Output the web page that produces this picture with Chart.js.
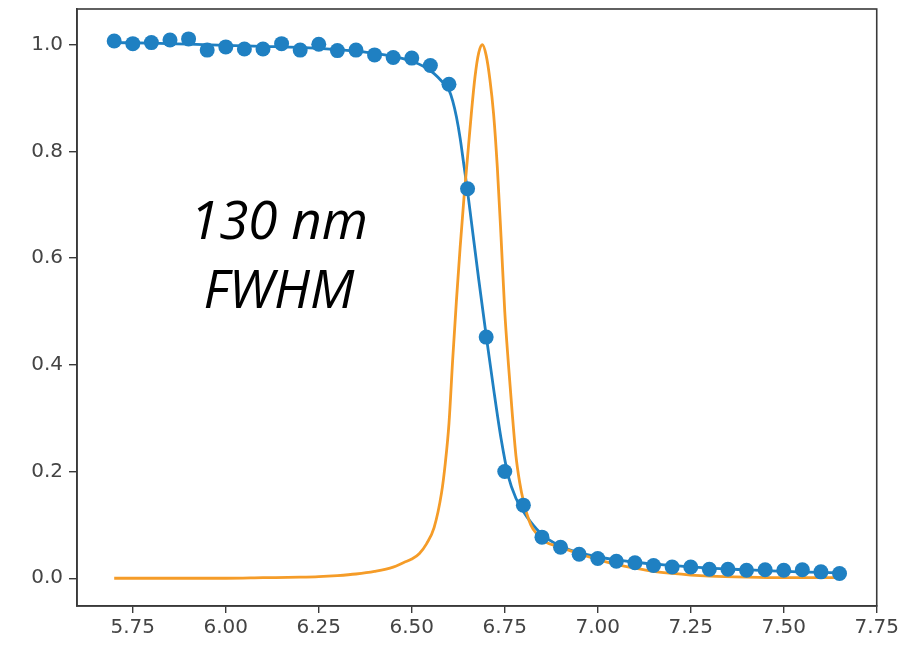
<!DOCTYPE html>
<html>
<head>
<meta charset="utf-8">
<script src="https://cdn.jsdelivr.net/npm/chart.js@4.4.1/dist/chart.umd.min.js"></script>
<style>
  html, body { margin: 0; padding: 0; background: #fff; }
  #wrap { width: 902px; height: 656px; }
</style>
</head>
<body>
<div id="wrap"><canvas id="myChart" width="902" height="656"></canvas></div>
<script>
'use strict';

// measured points (blue dots)
let pointX = [5.70, 5.75, 5.80, 5.85, 5.90, 5.95, 6.00, 6.05, 6.10, 6.15,
  6.20, 6.25, 6.30, 6.35, 6.40, 6.45, 6.50, 6.55, 6.60, 6.65,
  6.70, 6.75, 6.80, 6.85, 6.90, 6.95, 7.00, 7.05, 7.10, 7.15,
  7.20, 7.25, 7.30, 7.35, 7.40, 7.45, 7.50, 7.55, 7.60, 7.65];
let pointY = [1.007, 1.002, 1.004, 1.009, 1.011, 0.990, 0.996, 0.992, 0.992, 1.002,
  0.990, 1.001, 0.989, 0.990, 0.981, 0.976, 0.975, 0.961, 0.926, 0.730,
  0.452, 0.200, 0.137, 0.077, 0.058, 0.045, 0.037, 0.032, 0.029, 0.024,
  0.021, 0.021, 0.017, 0.017, 0.015, 0.016, 0.015, 0.016, 0.012, 0.009];

// fitted curve (blue line)
let fitX = [5.70, 5.80, 5.90, 6.00, 6.10, 6.20, 6.30, 6.35, 6.40, 6.45,
  6.50, 6.53, 6.56, 6.58, 6.60, 6.61, 6.62, 6.63, 6.64, 6.65,
  6.66, 6.68, 6.70, 6.72, 6.74, 6.76, 6.78, 6.80, 6.82, 6.85,
  6.90, 6.95, 7.00, 7.10, 7.20, 7.30, 7.40, 7.50, 7.60, 7.65];
let fitY = [1.004, 1.003, 1.001, 0.999, 0.997, 0.995, 0.991, 0.988, 0.984, 0.978,
  0.969, 0.960, 0.946, 0.932, 0.915, 0.895, 0.865, 0.825, 0.775, 0.725,
  0.670, 0.560, 0.455, 0.355, 0.262, 0.190, 0.150, 0.125, 0.105, 0.082,
  0.060, 0.048, 0.040, 0.030, 0.024, 0.019, 0.016, 0.013, 0.011, 0.010];

// peak curve (orange line)
let peakX = [5.70, 5.80, 5.90, 6.00, 6.10, 6.20, 6.25, 6.30, 6.35, 6.40,
  6.45, 6.48, 6.50, 6.52, 6.54, 6.56, 6.58, 6.59, 6.60, 6.61,
  6.62, 6.63, 6.64, 6.65, 6.66, 6.67, 6.68, 6.69, 6.70, 6.71,
  6.72, 6.73, 6.74, 6.75, 6.76, 6.77, 6.78, 6.79, 6.80, 6.82,
  6.84, 6.86, 6.90, 6.95, 7.00, 7.05, 7.10, 7.15, 7.20, 7.25,
  7.30, 7.40, 7.50, 7.65];
let peakY = [0.000, 0.000, 0.000, 0.000, 0.001, 0.002, 0.003, 0.005, 0.008, 0.013,
  0.021, 0.030, 0.036, 0.046, 0.065, 0.095, 0.160, 0.215, 0.290, 0.410,
  0.520, 0.620, 0.710, 0.790, 0.870, 0.940, 0.985, 1.000, 0.980, 0.935,
  0.870, 0.770, 0.640, 0.500, 0.400, 0.310, 0.230, 0.180, 0.145, 0.100,
  0.080, 0.068, 0.058, 0.046, 0.035, 0.026, 0.019, 0.013, 0.009, 0.006,
  0.004, 0.002, 0.001, 0.001];

let xTicks = [5.75, 6.00, 6.25, 6.50, 6.75, 7.00, 7.25, 7.50, 7.75];
let yTicks = [0.0, 0.2, 0.4, 0.6, 0.8, 1.0];
let noteLines = ['130 nm', 'FWHM'];

function toXY(xs, ys) {
  let out = [];
  for (let i = 0; i < xs.length; i++) {
    out.push({ x: xs[i], y: ys[i] });
  }
  return out;
}

let blue = '#1f80c2';
let orange = '#f59c28';
let axisColor = '#3a3a3a';
let tickFont = { family: 'DejaVu Sans', size: 20 };

// frame on top/right + the big italic note
let framePlugin = {
  id: 'frame',
  afterDraw(chart) {
    let c = chart.ctx;
    let a = chart.chartArea;
    c.save();
    c.strokeStyle = axisColor;
    c.lineWidth = 1.6;
    c.strokeRect(a.left, a.top, a.right - a.left, a.bottom - a.top);
    c.fillStyle = '#000';
    c.font = 'italic 53px "Open Sans"';
    c.textAlign = 'center';
    c.textBaseline = 'alphabetic';
    c.fillText(noteLines[0], 279, 239);
    c.fillText(noteLines[1], 279, 308);
    c.restore();
  }
};

let ctx = document.getElementById('myChart').getContext('2d');
let myChart = new Chart(ctx, {
  type: 'line',
  data: {
    datasets: [{
      label: 'data',
      data: toXY(pointX, pointY),
      showLine: false,
      pointRadius: 7.5,
      pointBackgroundColor: blue,
      pointBorderWidth: 0,
      order: 0
    }, {
      label: 'peak',
      data: toXY(peakX, peakY),
      borderColor: orange,
      borderWidth: 2.8,
      pointRadius: 0,
      cubicInterpolationMode: 'monotone',
      order: 1
    }, {
      label: 'fit',
      data: toXY(fitX, fitY),
      borderColor: blue,
      borderWidth: 2.8,
      pointRadius: 0,
      cubicInterpolationMode: 'monotone',
      order: 2
    }]
  },
  options: {
    responsive: false,
    animation: false,
    events: [],
    layout: { padding: { top: 9, right: 25, left: 0, bottom: 0 } },
    plugins: {
      legend: { display: false },
      tooltip: { enabled: false }
    },
    scales: {
      x: {
        type: 'linear',
        min: 5.6,
        max: 7.75,
        afterBuildTicks(scale) {
          scale.ticks = xTicks.map(v => ({ value: v }));
        },
        afterFit(scale) {
          scale.height = 50;
        },
        ticks: {
          color: '#444',
          font: tickFont,
          padding: 3,
          maxRotation: 0,
          autoSkip: false,
          callback: v => Number(v).toFixed(2)
        },
        grid: {
          display: true,
          drawOnChartArea: false,
          drawTicks: true,
          tickLength: 7,
          color: axisColor,
          lineWidth: 1.4
        },
        border: { display: true, color: axisColor, width: 1.6 }
      },
      y: {
        type: 'linear',
        min: -0.052,
        max: 1.067,
        afterBuildTicks(scale) {
          scale.ticks = yTicks.map(v => ({ value: v }));
        },
        afterFit(scale) {
          scale.width = 77;
          scale.paddingTop = 0;
          scale.paddingBottom = 0;
        },
        ticks: {
          color: '#444',
          font: tickFont,
          padding: 6,
          autoSkip: false,
          callback: v => Number(v).toFixed(1)
        },
        grid: {
          display: true,
          drawOnChartArea: false,
          drawTicks: true,
          tickLength: 8,
          color: axisColor,
          lineWidth: 1.4
        },
        border: { display: true, color: axisColor, width: 1.6 }
      }
    }
  },
  plugins: [framePlugin]
});
</script>
</body>
</html>
